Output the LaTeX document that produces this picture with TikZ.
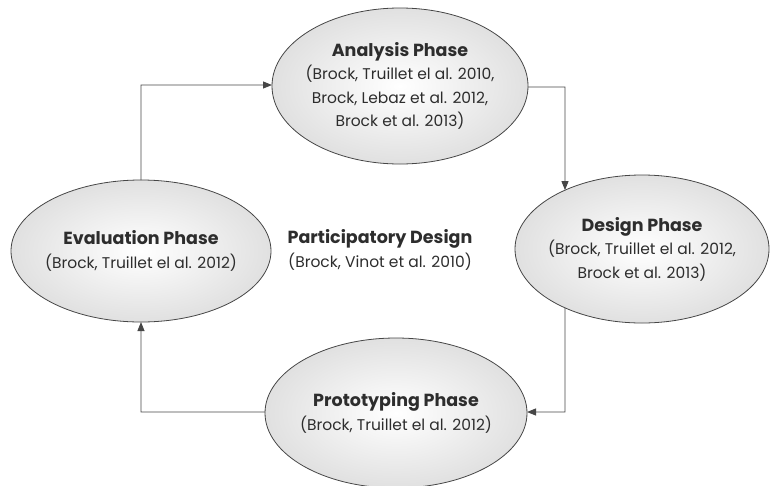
\documentclass[tikz,border=0pt]{standalone}
\usepackage{fontspec}
\setmainfont{Poppins}
\usetikzlibrary{shapes.geometric,arrows.meta,intersections}
\definecolor{edge}{RGB}{70,70,70}
\definecolor{txt}{RGB}{45,45,45}
\tikzset{
  phase/.style={ellipse, draw=edge, line width=0.8pt, inner color=white, outer color=black!12, inner sep=0pt},
  lbl/.style={text=txt, align=center, font=\fontsize{15.5}{23.5}\selectfont, inner sep=0pt},
  conn/.style={draw=edge, line width=0.9pt, -{Triangle[length=9pt,width=7pt]}}
}
\newcommand{\ttl}[1]{{\bfseries\fontsize{17.5}{23.5}\selectfont #1}}
\begin{document}
\begin{tikzpicture}[x=1pt,y=-1pt]
\useasboundingbox (0,0) rectangle (770,485);
\node[phase, minimum width=256pt, minimum height=156pt, name path=pana] (ana) at (400,86) {};
\node[lbl] (anat) at (ana.center) {\ttl{Analysis Phase}\\(Brock, Truillet el al. 2010,\\Brock, Lebaz et al. 2012,\\Brock et al. 2013)};
\node[phase, minimum width=260pt, minimum height=142pt, name path=peva] (eva) at (141,251) {};
\node[lbl] (evat) at (eva.center) {\ttl{Evaluation Phase}\\(Brock, Truillet el al. 2012)};
\node[phase, minimum width=254pt, minimum height=148pt, name path=pdes] (des) at (642,249) {};
\node[lbl] (dest) at (des.center) {\ttl{Design Phase}\\(Brock, Truillet el al. 2012,\\Brock et al. 2013)};
\node[phase, minimum width=262pt, minimum height=150pt, name path=ppro] (pro) at (396,413) {};
\node[lbl] (prot) at (pro.center) {\ttl{Prototyping Phase}\\(Brock, Truillet el al. 2012)};
\node[lbl] (pd) at (380,250) {\ttl{Participatory Design}\\(Brock, Vinot et al. 2010)};
% bends
\coordinate (b1) at (141,85);
\coordinate (b2) at (565,87);
\coordinate (b3) at (565,412);
\coordinate (b4) at (141,412);
% helper paths
\path[name path=h1] (b1) -- (400,85);
\path[name path=v1] (b1) -- (141,251);
\path[name path=h2] (b2) -- (400,87);
\path[name path=v2] (b2) -- (565,249);
\path[name path=v3] (b3) -- (565,249);
\path[name path=h3] (b3) -- (396,412);
\path[name path=h4] (b4) -- (396,412);
\path[name path=v4] (b4) -- (141,251);
\path[name intersections={of=h1 and pana, by=e1}];
\path[name intersections={of=v1 and peva, by=s1}];
\path[name intersections={of=h2 and pana, by=s2}];
\path[name intersections={of=v2 and pdes, by=e2}];
\path[name intersections={of=v3 and pdes, by=s3}];
\path[name intersections={of=h3 and ppro, by=e3}];
\path[name intersections={of=h4 and ppro, by=s4}];
\path[name intersections={of=v4 and peva, by=e4}];
\draw[conn] (s1) -- (b1) -- (e1);
\draw[conn] (s2) -- (b2) -- (e2);
\draw[conn] (s3) -- (b3) -- (e3);
\draw[conn] (s4) -- (b4) -- (e4);
\end{tikzpicture}
\end{document}
